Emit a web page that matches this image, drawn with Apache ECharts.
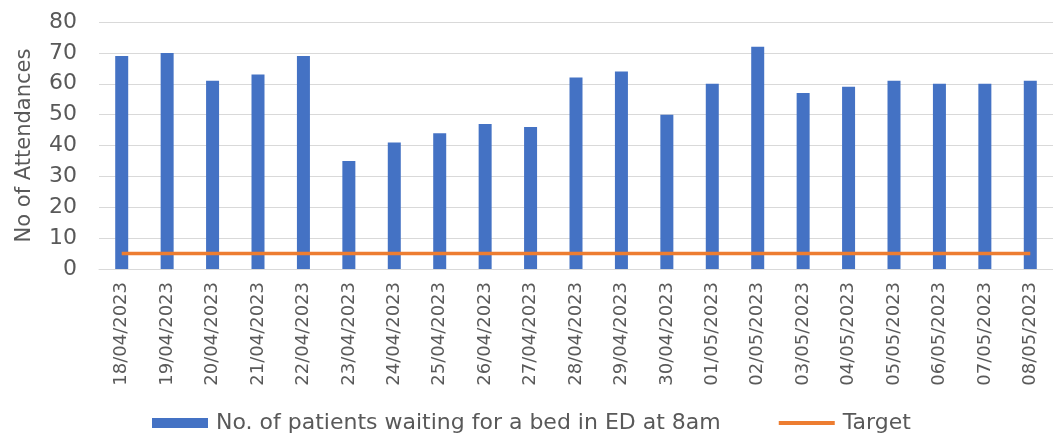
<!DOCTYPE html>
<html>
<head>
<meta charset="utf-8">
<style>
  html, body { margin: 0; padding: 0; background: #fff; }
  #chart { width: 1053px; height: 434px; }
</style>
<script src="https://cdn.jsdelivr.net/npm/echarts@6/dist/echarts.min.js"></script>
</head>
<body>
<div id="chart"></div>
<script>
// Daily snapshot of ED patients waiting for a bed at 8am
const dates = [
  '18/04/2023', '19/04/2023', '20/04/2023', '21/04/2023', '22/04/2023',
  '23/04/2023', '24/04/2023', '25/04/2023', '26/04/2023', '27/04/2023',
  '28/04/2023', '29/04/2023', '30/04/2023', '01/05/2023', '02/05/2023',
  '03/05/2023', '04/05/2023', '05/05/2023', '06/05/2023', '07/05/2023',
  '08/05/2023'
];
const waiting = [69, 70, 61, 63, 69, 35, 41, 44, 47, 46, 62, 64, 50, 60, 72, 57, 59, 61, 60, 60, 61];
const target = [5, 5, 5, 5, 5, 5, 5, 5, 5, 5, 5, 5, 5, 5, 5, 5, 5, 5, 5, 5, 5];

const waitingName = 'No. of patients waiting for a bed in ED at 8am';
const targetName = 'Target';
const textColor = '#595959';
const fontFamily = '"DejaVu Sans", "Liberation Sans", sans-serif';

const chart = echarts.init(document.getElementById('chart'), null, { renderer: 'canvas' });
chart.setOption({
  animation: false,
  textStyle: { fontFamily: fontFamily, color: textColor },
  grid: { left: 99, top: 22, width: 956, bottom: 165, containLabel: false },
  legend: {
    top: 412,
    left: 152,
    padding: 0,
    itemWidth: 56,
    itemHeight: 10,
    itemGap: 56,
    textStyle: { fontSize: 22, color: textColor, fontFamily: fontFamily, padding: [0, 0, 0, 3] },
    data: [
      { name: waitingName, icon: 'rect' },
      { name: targetName, itemStyle: { opacity: 0 }, lineStyle: { width: 4 } }
    ]
  },
  xAxis: {
    type: 'category',
    data: dates,
    boundaryGap: true,
    axisLine: { show: true, lineStyle: { color: '#d9d9d9', width: 1 } },
    axisTick: { show: false },
    axisLabel: {
      rotate: 90,
      interval: 0,
      margin: 13,
      fontSize: 18,
      color: textColor,
      fontFamily: fontFamily
    }
  },
  yAxis: {
    type: 'value',
    min: 0,
    max: 80,
    interval: 10,
    name: 'No of Attendances',
    nameLocation: 'middle',
    nameGap: 64,
    nameRotate: 90,
    nameTextStyle: { fontSize: 21, color: textColor, fontFamily: fontFamily },
    axisLine: { show: false },
    axisTick: { show: false },
    axisLabel: { margin: 22, fontSize: 22, color: textColor, fontFamily: fontFamily },
    splitLine: { lineStyle: { color: '#d9d9d9', width: 1 } }
  },
  series: [
    {
      name: waitingName,
      type: 'bar',
      data: waiting,
      barWidth: 13,
      itemStyle: { color: '#4472C4' }
    },
    {
      name: targetName,
      type: 'line',
      data: target,
      symbol: 'none',
      lineStyle: { color: '#ED7D31', width: 3.5 },
      itemStyle: { color: '#ED7D31' }
    }
  ]
});
</script>
</body>
</html>
